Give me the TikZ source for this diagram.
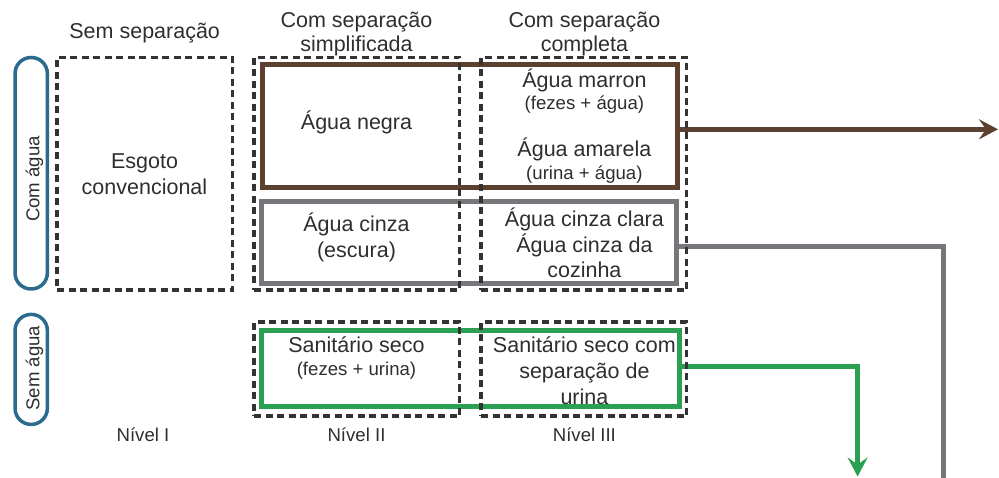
\documentclass[tikz,border=0pt]{standalone}
\usepackage{fontspec}
\setmainfont{Liberation Sans}
\usetikzlibrary{arrows.meta}
\definecolor{txt}{HTML}{2E2E2E}
\definecolor{dashc}{HTML}{333333}
\definecolor{brownc}{HTML}{5C4130}
\definecolor{grayc}{HTML}{76777A}
\definecolor{greenc}{HTML}{2CA052}
\definecolor{bluec}{HTML}{2A6B8E}
\tikzset{
  big/.style={font=\fontsize{21.5}{25}\selectfont, text=txt, inner sep=0pt},
  small/.style={font=\fontsize{18.6}{22}\selectfont, text=txt, inner sep=0pt},
  dbox/.style={draw=dashc, line width=3.4pt, dash pattern=on 7pt off 4.5pt, rectangle, inner sep=0pt},
  cbox/.style={line width=5pt, rectangle, inner sep=0pt, line join=miter},
  pill/.style={draw=bluec, line width=3.5pt, rectangle, rounded corners=16pt, inner sep=0pt, minimum width=32.3pt},
  conn/.style={line width=5pt},
  tipA/.style={-{Stealth[length=19pt,width=20pt,inset=7pt]}}
}
\begin{document}
\begin{tikzpicture}[x=1pt,y=-1pt]
\useasboundingbox (0,0) rectangle (999,478);
% coloured boxes
\node[cbox, draw=brownc, minimum width=414.5pt, minimum height=122.5pt] (brown) at (469.75,126.25) {};
\node[cbox, draw=grayc, minimum width=414.5pt, minimum height=82pt] (gray) at (468.75,242.5) {};
\node[cbox, draw=greenc, minimum width=417.5pt, minimum height=76pt] (green) at (470.25,368.5) {};
% connectors
\coordinate (bEnd) at (998,129.3);
\coordinate (gBend) at (943.5,247);
\coordinate (gEnd) at (943.5,478);
\coordinate (grBend) at (857.6,367);
\coordinate (grEnd) at (857.6,476.5);
\draw[conn, draw=brownc, tipA] (brown.east |- bEnd) -- (bEnd);
\draw[conn, draw=grayc, line join=miter] (gray.east |- gBend) -- (gBend) -- (gEnd);
\draw[conn, draw=greenc, line join=miter, tipA] (green.east |- grBend) -- (grBend) -- (grEnd);
% dashed boxes
\node[dbox, minimum width=175.5pt, minimum height=232.5pt] (esgoto) at (144.75,173.75) {};
\node[dbox, minimum width=205.5pt, minimum height=232.5pt] (n2top) at (356.75,173.75) {};
\node[dbox, minimum width=205.7pt, minimum height=232.5pt] (n3top) at (583.85,173.75) {};
\node[dbox, minimum width=205.5pt, minimum height=94pt] (n2bot) at (356.75,369) {};
\node[dbox, minimum width=205.7pt, minimum height=94pt] (n3bot) at (583.85,369) {};
% pills
\node[pill, minimum height=231.5pt] (pillA) at (31.2,173.25) {};
\node[pill, minimum height=110pt] (pillB) at (31.2,369.4) {};
\node[small, rotate=90, anchor=base] (comagua) at (39.3,179) {Com água};
\node[small, rotate=90, anchor=base] (semagua) at (39.3,368.3) {Sem água};
% headers
\node[big, anchor=base] (h1) at (144.7,38.3) {Sem separação};
\node[big, anchor=base] (h2a) at (356.5,27.3) {Com separação};
\node[big, anchor=base] (h2b) at (356.5,51.7) {simplificada};
\node[big, anchor=base] (h3a) at (584.4,27.3) {Com separação};
\node[big, anchor=base] (h3b) at (584.4,51.7) {completa};
% column 1
\node[big, anchor=base] (e1) at (144.5,168.3) {Esgoto};
\node[big, anchor=base] (e2) at (144.5,194.3) {convencional};
% column 2
\node[big, anchor=base] (negra) at (356.5,130) {Água negra};
\node[big, anchor=base] (cz1) at (356.5,231.7) {Água cinza};
\node[big, anchor=base] (cz2) at (356.5,257.7) {(escura)};
\node[big, anchor=base] (ss1) at (356.5,352.3) {Sanitário seco};
\node[small, anchor=base] (ss2) at (356.5,375) {(fezes + urina)};
% column 3
\node[big, anchor=base] (marron) at (584.4,87.3) {Água marron};
\node[small, anchor=base] (marron2) at (584.4,109.3) {(fezes + água)};
\node[big, anchor=base] (amarela) at (584.4,156.7) {Água amarela};
\node[small, anchor=base] (amarela2) at (584.4,179.3) {(urina + água)};
\node[big, anchor=base] (cc1) at (584.4,226.7) {Água cinza clara};
\node[big, anchor=base] (cc2) at (584.4,252.3) {Água cinza da};
\node[big, anchor=base] (cc3) at (584.4,277.7) {cozinha};
\node[big, anchor=base] (su1) at (584.4,352.3) {Sanitário seco com};
\node[big, anchor=base] (su2) at (584.4,378.3) {separação de};
\node[big, anchor=base] (su3) at (584.4,404) {urina};
% levels
\node[small, anchor=base] (nv1) at (143,441) {Nível I};
\node[small, anchor=base] (nv2) at (356.5,441) {Nível II};
\node[small, anchor=base] (nv3) at (584.4,441) {Nível III};
\end{tikzpicture}
\end{document}
